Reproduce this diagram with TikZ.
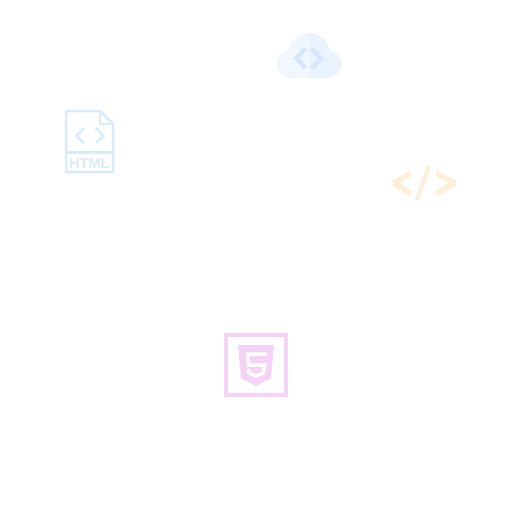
\documentclass[tikz,border=0pt]{standalone}
\usepackage{fontspec}
\setsansfont{Liberation Sans}
\definecolor{mcloudl}{HTML}{F1F7FE}
\definecolor{mcloudr}{HTML}{E9F3FE}
\definecolor{mcode}{HTML}{D3E6FC}
\definecolor{mfile}{HTML}{D8EBFA}
\definecolor{mtag}{HTML}{FDEFD9}
\definecolor{mpink}{HTML}{F4D3F6}
\tikzset{filestroke/.style = {mfile, line width = 0.025cm}}
\begin{document}
\begin{tikzpicture}[x=0.01cm, y=-0.01cm]
      \useasboundingbox (0, 0) rectangle (512, 512);
      \fill [white] (0, 0) rectangle (512, 512);

      % cloud
      \begin{scope}
        \clip (270, 25) rectangle (309, 85);
        \fill [mcloudl] (309, 54) circle [radius=21];
        \fill [mcloudl] (291, 64) circle [radius=14];
        \fill [mcloudl] (291, 64) rectangle (309, 78);
      \end{scope}
      \begin{scope}
        \clip (309, 25) rectangle (350, 85);
        \fill [mcloudr] (309, 54) circle [radius=21];
        \fill [mcloudr] (327, 64) circle [radius=14];
        \fill [mcloudr] (309, 64) rectangle (327, 78);
      \end{scope}
      \draw [mcode, line width=0.045cm] (305.5, 48.5) -- (296.5, 58.3) -- (305.5, 68);
      \draw [mcode, line width=0.045cm] (312, 48.5) -- (321, 58.3) -- (312, 68);

      % html file
      \draw [filestroke, line join=round] (66, 111) -- (100, 111) -- (113, 124) -- (113, 172) -- (66, 172) -- cycle;
      \draw [filestroke] (100, 111) -- (100, 124) -- (113, 124);
      \draw [filestroke] (66, 152.5) -- (113, 152.5);
      \draw [filestroke] (84, 128) -- (76.5, 136) -- (84, 143);
      \draw [filestroke] (96, 128) -- (103.5, 136) -- (96, 143);
      \node (htmllabel) [mfile, font=\sffamily\bfseries\fontsize{4.1}{4.1}\selectfont, inner sep=0] at (89.5, 163.5) {HTML};

      % closing tag
      \fill [mtag] (411, 170) -- (392.5, 180.5) -- (392.5, 186) -- (411, 196.5) -- (411, 190.5) -- (400, 183.3) -- (411, 176) -- cycle;
      \draw [mtag, line width=0.045cm] (429, 166) -- (417, 200);
      \fill [mtag] (436, 170) -- (456, 180.5) -- (456, 186) -- (436, 196.5) -- (436, 190.5) -- (448, 183.3) -- (436, 176) -- cycle;

      % html5 badge
      \draw [mpink, line width=0.04cm] (226, 335) rectangle (286, 395);
      \fill [mpink] (238, 345) -- (274, 345) -- (271, 378) -- (256, 386) -- (241, 378) -- cycle;
      \draw [white, line width=0.035cm] (267, 354) -- (248, 354) -- (248.5, 365) -- (264.5, 365) -- (263.5, 373) -- (256, 376) -- (249, 373) -- (248.5, 369);
\end{tikzpicture}
\end{document}
